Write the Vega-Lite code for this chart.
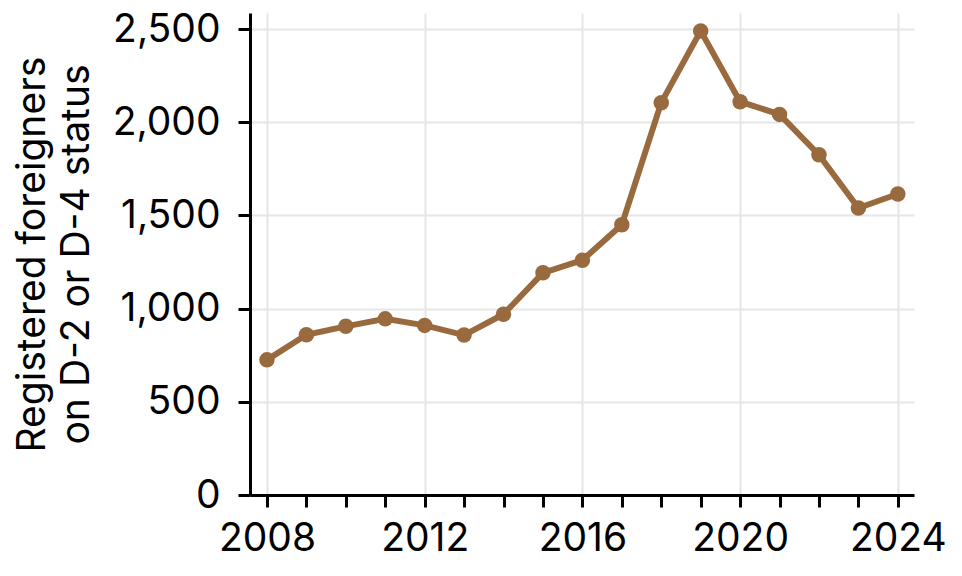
{
  "$schema": "https://vega.github.io/schema/vega-lite/v6.json",
  "autosize": {"type": "none"},
  "width": 664,
  "height": 482,
  "padding": {"left": 250, "top": 13, "right": 48, "bottom": 81},
  "config": {
    "font": "Inter",
    "view": {"stroke": null},
    "axis": {
      "labelFont": "Inter",
      "titleFont": "Inter",
      "labelFontSize": 39,
      "titleFontSize": 39,
      "labelColor": "#000000",
      "titleColor": "#000000",
      "titleFontWeight": "normal",
      "domainColor": "#000000",
      "domainWidth": 3,
      "tickColor": "#000000",
      "tickWidth": 3,
      "tickSize": 12,
      "gridColor": "#e6e6e6",
      "gridWidth": 2
    }
  },
  "data": {
    "values": [
      {"year": 2008, "count": 725},
      {"year": 2009, "count": 860},
      {"year": 2010, "count": 905},
      {"year": 2011, "count": 945},
      {"year": 2012, "count": 910},
      {"year": 2013, "count": 858},
      {"year": 2014, "count": 970},
      {"year": 2015, "count": 1192},
      {"year": 2016, "count": 1260},
      {"year": 2017, "count": 1450},
      {"year": 2018, "count": 2105},
      {"year": 2019, "count": 2490},
      {"year": 2020, "count": 2110},
      {"year": 2021, "count": 2042},
      {"year": 2022, "count": 1825},
      {"year": 2023, "count": 1540},
      {"year": 2024, "count": 1615}
    ]
  },
  "mark": {"type": "line", "color": "#996a3d", "strokeWidth": 6, "point": {"filled": true, "size": 240, "color": "#996a3d", "opacity": 1}},
  "encoding": {
    "x": {
      "field": "year",
      "type": "quantitative",
      "scale": {"domain": [2007.57, 2024.41], "nice": false, "zero": false},
      "axis": {
        "title": null,
        "values": [2008, 2009, 2010, 2011, 2012, 2013, 2014, 2015, 2016, 2017, 2018, 2019, 2020, 2021, 2022, 2023, 2024],
        "format": "d",
        "labelExpr": "datum.value % 4 == 0 ? datum.label : ''",
        "labelPadding": 12,
        "labelFlush": false,
        "labelOverlap": false,
        "gridOpacity": {"condition": {"test": "datum.value % 4 == 0", "value": 1}, "value": 0}
      }
    },
    "y": {
      "field": "count",
      "type": "quantitative",
      "scale": {"domain": [0, 2586], "nice": false},
      "axis": {
        "title": ["Registered foreigners", "on D-2 or D-4 status"],
        "titleLineHeight": 44,
        "titlePadding": 16,
        "values": [0, 500, 1000, 1500, 2000, 2500],
        "format": ",.0f",
        "labelPadding": 18,
        "labelFlush": false
      }
    }
  }
}
